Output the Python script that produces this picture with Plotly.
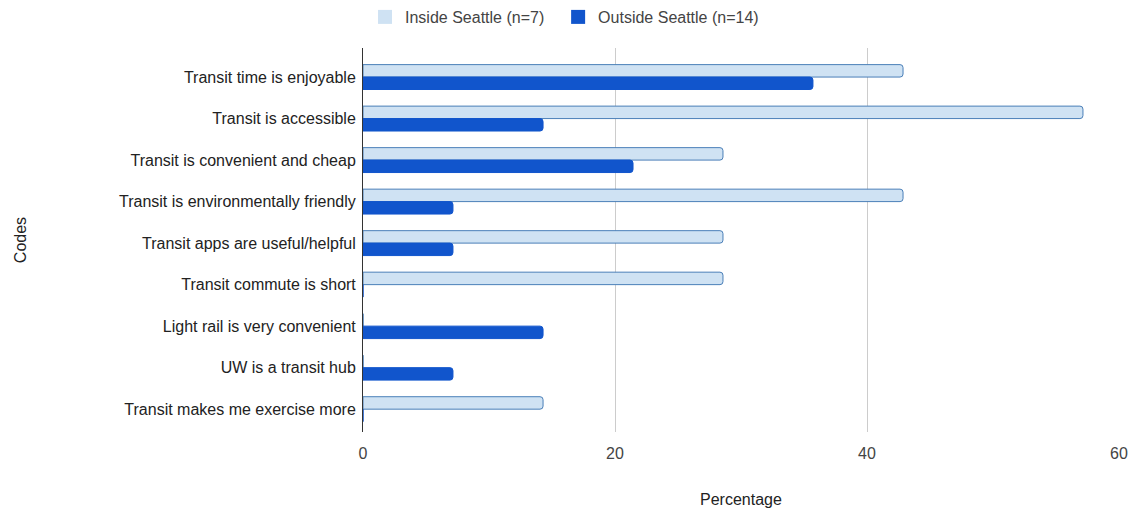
import plotly.graph_objects as go

categories = [
    "Transit time is enjoyable",
    "Transit is accessible",
    "Transit is convenient and cheap",
    "Transit is environmentally friendly",
    "Transit apps are useful/helpful",
    "Transit commute is short",
    "Light rail is very convenient",
    "UW is a transit hub",
    "Transit makes me exercise more",
]
inside_seattle = [42.86, 57.14, 28.57, 42.86, 28.57, 28.57, 0, 0, 14.29]
outside_seattle = [35.71, 14.29, 21.43, 7.14, 7.14, 0, 14.29, 7.14, 0]
series_names = ["Inside Seattle (n=7)", "Outside Seattle (n=14)"]
x_ticks = [0, 20, 40, 60]

FONT = "Arial, Liberation Sans, sans-serif"
LIGHT, LIGHT_EDGE, DARK = "#cfe2f3", "#4a7fb8", "#1155cc"

W, H = 1140, 513
L, R, T, B = 363, 14, 48, 81
PW, PH = W - L - R, H - T - B

fig = go.Figure()
fig.add_trace(go.Bar(
    y=categories, x=inside_seattle, orientation="h",
    name=series_names[0], showlegend=False,
    marker=dict(color=LIGHT, line=dict(color=LIGHT_EDGE, width=1)),
))
fig.add_trace(go.Bar(
    y=categories, x=outside_seattle, orientation="h",
    name=series_names[1], showlegend=False,
    marker=dict(color=DARK, line=dict(color=DARK, width=1)),
))
# legend entries with square swatches (nbsp pad widens the item gap)
legend_labels = [series_names[0] + "\u00a0\u00a0", series_names[1]]
for nm, col in zip(legend_labels, [LIGHT, DARK]):
    fig.add_trace(go.Scatter(
        x=[None], y=[None], mode="markers", name=nm,
        marker=dict(symbol="square", size=14, color=col, line=dict(width=0)),
    ))

fig.update_layout(
    width=W, height=H,
    margin=dict(l=L, r=R, t=T, b=B),
    paper_bgcolor="white", plot_bgcolor="white",
    barmode="group", bargap=0.4, bargroupgap=0.0,
    barcornerradius=3,
    font=dict(family=FONT, size=16, color="#222222"),
    legend=dict(
        orientation="h", xref="container", x=0.4952, xanchor="center",
        yref="container", y=1.0, yanchor="top",
        font=dict(size=16, color="#444444"),
    ),
    xaxis=dict(
        range=[0, 60], tickvals=x_ticks, showgrid=True,
        gridcolor="#cccccc", gridwidth=1, zeroline=False,
        showline=False, ticks="", tickfont=dict(size=16, color="#444444"),
        ticklabelstandoff=10,
    ),
    yaxis=dict(
        categoryorder="array", categoryarray=categories,
        range=[8.55, -0.7], showgrid=False, ticks="",
        showline=True, linecolor="#333333", linewidth=1,
        tickfont=dict(size=16, color="#222222"), ticklabelstandoff=3,
    ),
    annotations=[
        dict(text="Codes", xref="paper", yref="paper", x=(17 - L) / PW,
             y=0.5, textangle=-90, showarrow=False, xanchor="center",
             font=dict(size=16, color="#222222")),
        dict(text="Percentage", xref="paper", yref="paper", x=(745 - L) / PW,
             y=-(499 - (H - B)) / PH, showarrow=False, yanchor="middle",
             font=dict(size=16, color="#222222")),
    ],
)

fig.write_html(
    "out.html",
    config={"displayModeBar": False},
    post_script="document.body.style.margin='0';document.body.style.overflow='hidden';",
)
